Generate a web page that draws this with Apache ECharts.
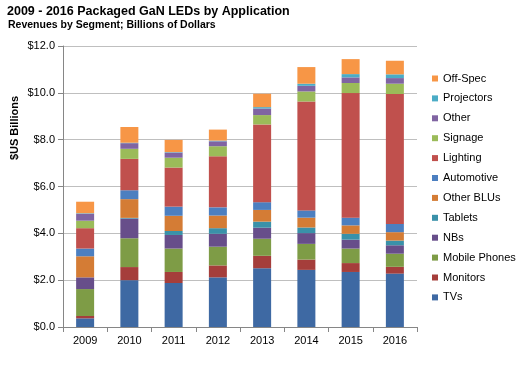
<!DOCTYPE html>
<html>
<head>
<meta charset="utf-8">
<script src="https://cdn.jsdelivr.net/npm/echarts@6/dist/echarts.min.js"></script>
<style>
html,body{margin:0;padding:0;background:#fff;}
#c{width:526px;height:366px;}
</style>
</head>
<body>
<div id="c"></div>
<script>
var years = ['2009','2010','2011','2012','2013','2014','2015','2016'];
var yTicks = [0, 2, 4, 6, 8, 10, 12];
var seriesNames = ['TVs','Monitors','Mobile Phones','NBs','Tablets','Other BLUs','Automotive','Lighting','Signage','Other','Projectors','Off-Spec'];
var tvs        = [0.37, 2.00, 1.88, 2.12, 2.51, 2.44, 2.35, 2.28];
var monitors   = [0.10, 0.56, 0.47, 0.51, 0.53, 0.44, 0.38, 0.29];
var mobile     = [1.15, 1.23, 1.00, 0.80, 0.73, 0.67, 0.62, 0.56];
var nbs        = [0.50, 0.84, 0.58, 0.55, 0.47, 0.46, 0.38, 0.36];
var tablets    = [0.00, 0.03, 0.17, 0.24, 0.26, 0.24, 0.25, 0.20];
var otherBlus  = [0.90, 0.80, 0.65, 0.54, 0.50, 0.42, 0.36, 0.36];
var automotive = [0.33, 0.38, 0.39, 0.35, 0.33, 0.31, 0.33, 0.35];
var lighting   = [0.87, 1.34, 1.67, 2.18, 3.32, 4.65, 5.32, 5.55];
var signage    = [0.32, 0.43, 0.42, 0.43, 0.40, 0.43, 0.43, 0.44];
var other      = [0.30, 0.24, 0.22, 0.21, 0.28, 0.24, 0.24, 0.24];
var projectors = [0.02, 0.02, 0.02, 0.03, 0.06, 0.09, 0.14, 0.16];
var offSpec    = [0.49, 0.67, 0.52, 0.47, 0.57, 0.71, 0.64, 0.58];
var values = [tvs, monitors, mobile, nbs, tablets, otherBlus, automotive, lighting, signage, other, projectors, offSpec];
var colors = ['#3E69A3','#A53E3B','#7E9C46','#674E8A','#3A91A9','#D47C35','#4C7FC0','#C0504D','#9BBB59','#8064A2','#4BACC6','#F79646'];

var chart = echarts.init(document.getElementById('c'), null, {renderer:'canvas'});
var font = '"Liberation Sans", Arial, sans-serif';
var series = seriesNames.map(function(n, i){
  return {
    name: n, type: 'bar', stack: 'total', data: values[i],
    barWidth: 18, itemStyle: {color: colors[i]}, emphasis: {disabled: true}
  };
});
chart.setOption({
  animation: false,
  textStyle: {fontFamily: font},
  title: [
    {text: '2009 - 2016 Packaged GaN LEDs by Application', left: 7, top: 5, padding: 0,
     textStyle: {fontFamily: font, fontSize: 12.5, fontWeight: 'bold', color: '#000'}},
    {text: 'Revenues by Segment; Billions of Dollars', left: 8, top: 20, padding: 0,
     textStyle: {fontFamily: font, fontSize: 10.5, fontWeight: 'bold', color: '#000'}}
  ],
  graphic: [{
    type: 'text', x: 15, y: 128, rotation: Math.PI/2,
    style: {text: '$US Billions', font: 'bold 11px "Liberation Sans", Arial, sans-serif', fill: '#000',
            textAlign: 'center', textVerticalAlign: 'middle'}
  }],
  legend: {
    orient: 'vertical', left: 432, top: 72, padding: 0,
    itemWidth: 6, itemHeight: 6, itemGap: 6.9, icon: 'rect',
    data: seriesNames.slice().reverse(),
    textStyle: {fontFamily: font, fontSize: 11, color: '#000', lineHeight: 13}
  },
  grid: {left: 63, right: 109, top: 46, bottom: 39, containLabel: false},
  xAxis: {
    type: 'category', data: years,
    axisLine: {lineStyle: {color: '#868686'}},
    axisTick: {show: true, length: 5, lineStyle: {color: '#868686'}},
    axisLabel: {fontFamily: font, fontSize: 11, color: '#000', margin: 8}
  },
  yAxis: {
    type: 'value', min: yTicks[0], max: yTicks[yTicks.length-1], interval: 2,
    axisLine: {show: true, lineStyle: {color: '#868686'}},
    axisTick: {show: true, length: 5, lineStyle: {color: '#868686'}},
    axisLabel: {fontFamily: font, fontSize: 11, color: '#000', margin: 8,
      formatter: function(v){ return '$' + v.toFixed(1); }},
    splitLine: {show: true, lineStyle: {color: '#BFBFBF'}}
  },
  series: series
});
</script>
</body>
</html>
